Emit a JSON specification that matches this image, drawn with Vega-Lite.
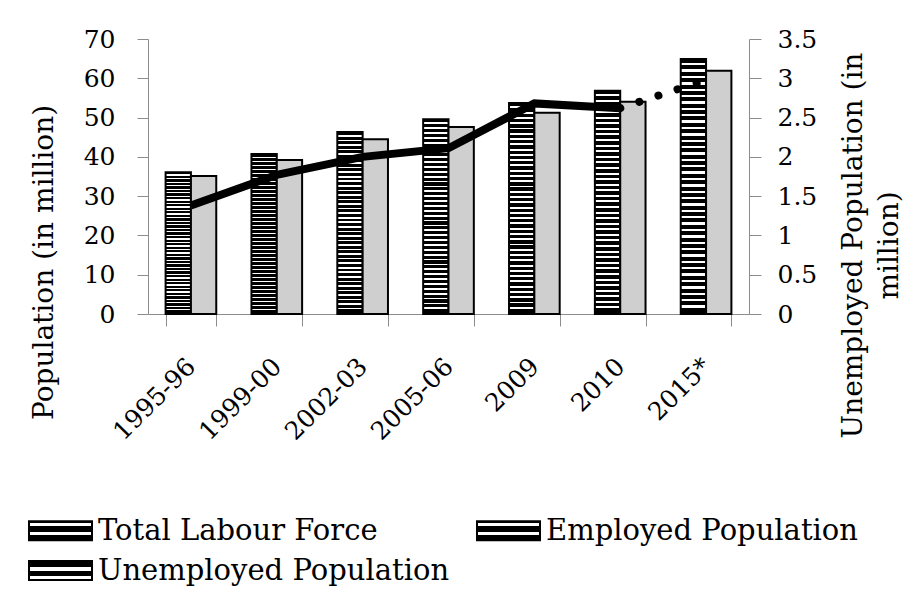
{
  "$schema": "https://vega.github.io/schema/vega-lite/v6.json",
  "width": 601,
  "height": 275,
  "autosize": {"type": "none"},
  "padding": {"left": 148, "top": 39, "right": 159, "bottom": 277},
  "background": "#ffffff",
  "config": {
    "view": {"stroke": null},
    "font": "DejaVu Serif",
    "axis": {"grid": false, "domainColor": "#8c8c8c", "tickColor": "#8c8c8c", "labelColor": "#000000", "titleColor": "#000000", "labelFont": "DejaVu Serif", "titleFont": "DejaVu Serif", "titleFontWeight": "normal"}
  },
  "datasets": {
    "bars": [
      {"year": "1995-96", "series": "Total Labour Force", "value": 36.1},
      {"year": "1995-96", "series": "Employed Population", "value": 35.1},
      {"year": "1999-00", "series": "Total Labour Force", "value": 40.7},
      {"year": "1999-00", "series": "Employed Population", "value": 39.2},
      {"year": "2002-03", "series": "Total Labour Force", "value": 46.3},
      {"year": "2002-03", "series": "Employed Population", "value": 44.5},
      {"year": "2005-06", "series": "Total Labour Force", "value": 49.6},
      {"year": "2005-06", "series": "Employed Population", "value": 47.6},
      {"year": "2009", "series": "Total Labour Force", "value": 53.7},
      {"year": "2009", "series": "Employed Population", "value": 51.2},
      {"year": "2010", "series": "Total Labour Force", "value": 56.8},
      {"year": "2010", "series": "Employed Population", "value": 54.0},
      {"year": "2015*", "series": "Total Labour Force", "value": 64.9},
      {"year": "2015*", "series": "Employed Population", "value": 61.9}
    ],
    "unemp": [
      {"year": "1995-96", "u": 1.38},
      {"year": "1999-00", "u": 1.77},
      {"year": "2002-03", "u": 2.0},
      {"year": "2005-06", "u": 2.11},
      {"year": "2009", "u": 2.68},
      {"year": "2010", "u": 2.62},
      {"year": "2015*", "u": 2.98}
    ]
  },
  "layer": [
    {
      "data": {"name": "bars"},
      "transform": [{"filter": "datum.series === 'Total Labour Force'"}],
      "mark": {"type": "bar", "strokeWidth": 2, "fill": {"gradient": "linear", "x1": 0, "y1": 0, "x2": 0, "y2": 1, "stops": [
            {"offset": 0, "color": "#000"}, {"offset": 0.016, "color": "#000"}, {"offset": 0.016, "color": "#fff"}, {"offset": 0.025, "color": "#fff"},
            {"offset": 0.025, "color": "#000"}, {"offset": 0.041, "color": "#000"}, {"offset": 0.041, "color": "#fff"}, {"offset": 0.05, "color": "#fff"},
            {"offset": 0.05, "color": "#000"}, {"offset": 0.066, "color": "#000"}, {"offset": 0.066, "color": "#fff"}, {"offset": 0.075, "color": "#fff"},
            {"offset": 0.075, "color": "#000"}, {"offset": 0.091, "color": "#000"}, {"offset": 0.091, "color": "#fff"}, {"offset": 0.1, "color": "#fff"},
            {"offset": 0.1, "color": "#000"}, {"offset": 0.116, "color": "#000"}, {"offset": 0.116, "color": "#fff"}, {"offset": 0.125, "color": "#fff"},
            {"offset": 0.125, "color": "#000"}, {"offset": 0.141, "color": "#000"}, {"offset": 0.141, "color": "#fff"}, {"offset": 0.15, "color": "#fff"},
            {"offset": 0.15, "color": "#000"}, {"offset": 0.166, "color": "#000"}, {"offset": 0.166, "color": "#fff"}, {"offset": 0.175, "color": "#fff"},
            {"offset": 0.175, "color": "#000"}, {"offset": 0.191, "color": "#000"}, {"offset": 0.191, "color": "#fff"}, {"offset": 0.2, "color": "#fff"},
            {"offset": 0.2, "color": "#000"}, {"offset": 0.216, "color": "#000"}, {"offset": 0.216, "color": "#fff"}, {"offset": 0.225, "color": "#fff"},
            {"offset": 0.225, "color": "#000"}, {"offset": 0.241, "color": "#000"}, {"offset": 0.241, "color": "#fff"}, {"offset": 0.25, "color": "#fff"},
            {"offset": 0.25, "color": "#000"}, {"offset": 0.266, "color": "#000"}, {"offset": 0.266, "color": "#fff"}, {"offset": 0.275, "color": "#fff"},
            {"offset": 0.275, "color": "#000"}, {"offset": 0.291, "color": "#000"}, {"offset": 0.291, "color": "#fff"}, {"offset": 0.3, "color": "#fff"},
            {"offset": 0.3, "color": "#000"}, {"offset": 0.316, "color": "#000"}, {"offset": 0.316, "color": "#fff"}, {"offset": 0.325, "color": "#fff"},
            {"offset": 0.325, "color": "#000"}, {"offset": 0.341, "color": "#000"}, {"offset": 0.341, "color": "#fff"}, {"offset": 0.35, "color": "#fff"},
            {"offset": 0.35, "color": "#000"}, {"offset": 0.366, "color": "#000"}, {"offset": 0.366, "color": "#fff"}, {"offset": 0.375, "color": "#fff"},
            {"offset": 0.375, "color": "#000"}, {"offset": 0.391, "color": "#000"}, {"offset": 0.391, "color": "#fff"}, {"offset": 0.4, "color": "#fff"},
            {"offset": 0.4, "color": "#000"}, {"offset": 0.416, "color": "#000"}, {"offset": 0.416, "color": "#fff"}, {"offset": 0.425, "color": "#fff"},
            {"offset": 0.425, "color": "#000"}, {"offset": 0.441, "color": "#000"}, {"offset": 0.441, "color": "#fff"}, {"offset": 0.45, "color": "#fff"},
            {"offset": 0.45, "color": "#000"}, {"offset": 0.466, "color": "#000"}, {"offset": 0.466, "color": "#fff"}, {"offset": 0.475, "color": "#fff"},
            {"offset": 0.475, "color": "#000"}, {"offset": 0.491, "color": "#000"}, {"offset": 0.491, "color": "#fff"}, {"offset": 0.5, "color": "#fff"},
            {"offset": 0.5, "color": "#000"}, {"offset": 0.516, "color": "#000"}, {"offset": 0.516, "color": "#fff"}, {"offset": 0.525, "color": "#fff"},
            {"offset": 0.525, "color": "#000"}, {"offset": 0.541, "color": "#000"}, {"offset": 0.541, "color": "#fff"}, {"offset": 0.55, "color": "#fff"},
            {"offset": 0.55, "color": "#000"}, {"offset": 0.566, "color": "#000"}, {"offset": 0.566, "color": "#fff"}, {"offset": 0.575, "color": "#fff"},
            {"offset": 0.575, "color": "#000"}, {"offset": 0.591, "color": "#000"}, {"offset": 0.591, "color": "#fff"}, {"offset": 0.6, "color": "#fff"},
            {"offset": 0.6, "color": "#000"}, {"offset": 0.616, "color": "#000"}, {"offset": 0.616, "color": "#fff"}, {"offset": 0.625, "color": "#fff"},
            {"offset": 0.625, "color": "#000"}, {"offset": 0.641, "color": "#000"}, {"offset": 0.641, "color": "#fff"}, {"offset": 0.65, "color": "#fff"},
            {"offset": 0.65, "color": "#000"}, {"offset": 0.666, "color": "#000"}, {"offset": 0.666, "color": "#fff"}, {"offset": 0.675, "color": "#fff"},
            {"offset": 0.675, "color": "#000"}, {"offset": 0.691, "color": "#000"}, {"offset": 0.691, "color": "#fff"}, {"offset": 0.7, "color": "#fff"},
            {"offset": 0.7, "color": "#000"}, {"offset": 0.716, "color": "#000"}, {"offset": 0.716, "color": "#fff"}, {"offset": 0.725, "color": "#fff"},
            {"offset": 0.725, "color": "#000"}, {"offset": 0.741, "color": "#000"}, {"offset": 0.741, "color": "#fff"}, {"offset": 0.75, "color": "#fff"},
            {"offset": 0.75, "color": "#000"}, {"offset": 0.766, "color": "#000"}, {"offset": 0.766, "color": "#fff"}, {"offset": 0.775, "color": "#fff"},
            {"offset": 0.775, "color": "#000"}, {"offset": 0.791, "color": "#000"}, {"offset": 0.791, "color": "#fff"}, {"offset": 0.8, "color": "#fff"},
            {"offset": 0.8, "color": "#000"}, {"offset": 0.816, "color": "#000"}, {"offset": 0.816, "color": "#fff"}, {"offset": 0.825, "color": "#fff"},
            {"offset": 0.825, "color": "#000"}, {"offset": 0.841, "color": "#000"}, {"offset": 0.841, "color": "#fff"}, {"offset": 0.85, "color": "#fff"},
            {"offset": 0.85, "color": "#000"}, {"offset": 0.866, "color": "#000"}, {"offset": 0.866, "color": "#fff"}, {"offset": 0.875, "color": "#fff"},
            {"offset": 0.875, "color": "#000"}, {"offset": 0.891, "color": "#000"}, {"offset": 0.891, "color": "#fff"}, {"offset": 0.9, "color": "#fff"},
            {"offset": 0.9, "color": "#000"}, {"offset": 0.916, "color": "#000"}, {"offset": 0.916, "color": "#fff"}, {"offset": 0.925, "color": "#fff"},
            {"offset": 0.925, "color": "#000"}, {"offset": 0.941, "color": "#000"}, {"offset": 0.941, "color": "#fff"}, {"offset": 0.95, "color": "#fff"},
            {"offset": 0.95, "color": "#000"}, {"offset": 0.966, "color": "#000"}, {"offset": 0.966, "color": "#fff"}, {"offset": 0.975, "color": "#fff"},
            {"offset": 0.975, "color": "#000"}, {"offset": 1, "color": "#000"}
          ]}},
      "encoding": {
        "x": {
          "field": "year", "type": "nominal", "sort": null,
          "scale": {"paddingInner": 0.41, "paddingOuter": 0.205},
          "axis": {"title": null, "labelAngle": -45, "labelAlign": "right", "labelBaseline": "middle", "labelFontSize": 25, "labelPadding": 36, "tickSize": 12, "tickBand": "extent", "labelOverlap": false, "labelLimit": 300}
        },
        "xOffset": {"field": "series", "type": "nominal", "scale": {"domain": ["Total Labour Force", "Employed Population"]}},
        "y": {
          "field": "value", "type": "quantitative",
          "scale": {"domain": [0, 70]},
          "axis": {"title": "Population (in million)", "values": [0, 10, 20, 30, 40, 50, 60, 70], "labelFontSize": 25, "labelPadding": 22, "tickSize": 11, "titleFontSize": 28, "titleX": -104, "titleY": 223, "titleAngle": 270, "titleAlign": "center", "titleBaseline": "middle"}
        },
        "stroke": {
          "field": "series", "type": "nominal",
          "scale": {"domain": ["Total Labour Force", "Employed Population", "Unemployed Population"], "range": ["#000000", "#000000", "#000000"]},
          "legend": {
            "title": null, "orient": "none", "direction": "horizontal", "legendX": -102, "legendY": 477, "columns": 2, "columnPadding": 23, "rowPadding": 10,
            "labelFont": "DejaVu Serif", "labelFontSize": 29, "labelColor": "#000000", "labelLimit": 600, "labelOffset": 23,
            "symbolSize": 441, "symbolType": "M-3,-0.9H3V0.9H-3Z", "symbolStrokeWidth": 2, "symbolStrokeColor": "#000000",
            "encode": {
              "symbols": {
                "fill": {"value": {"expr": "(datum.index === 2 || datum.label === 'Unemployed Population') ? '#000000' : (datum.index === 1 || datum.label === 'Employed Population') ? '#cfcfcf' : {gradient: 'linear', x1: 0, y1: 0, x2: 0, y2: 1, stops: [{offset: 0, color: '#000'}, {offset: 0.2, color: '#000'}, {offset: 0.2, color: '#fff'}, {offset: 0.29, color: '#fff'}, {offset: 0.29, color: '#000'}, {offset: 0.45, color: '#000'}, {offset: 0.45, color: '#fff'}, {offset: 0.55, color: '#fff'}, {offset: 0.55, color: '#000'}, {offset: 0.71, color: '#000'}, {offset: 0.71, color: '#fff'}, {offset: 0.8, color: '#fff'}, {offset: 0.8, color: '#000'}, {offset: 1, color: '#000'}]}"}},
                "shape": {"value": {"expr": "(datum.index === 2 || datum.label === 'Unemployed Population') ? 'M-3,-0.25H3V0.25H-3Z' : 'M-3,-0.9H3V0.9H-3Z'"}},
                "stroke": {"value": "#000000"},
                "strokeWidth": {"value": 2},
                "opacity": {"value": 1}
              }
            }
          }
        }
      }
    },
    {
      "data": {"name": "bars"},
      "transform": [{"filter": "datum.series === 'Employed Population'"}],
      "mark": {"type": "bar", "strokeWidth": 2, "fill": "#cfcfcf", "stroke": "#000000"},
      "encoding": {
        "x": {"field": "year", "type": "nominal", "sort": null},
        "xOffset": {"field": "series", "type": "nominal", "scale": {"domain": ["Total Labour Force", "Employed Population"]}},
        "y": {"field": "value", "type": "quantitative", "scale": {"domain": [0, 70]}, "axis": null}
      }
    },
    {
      "data": {"name": "unemp"},
      "transform": [{"filter": "datum.year !== '2015*'"}],
      "mark": {"type": "line", "strokeWidth": 8, "stroke": "#000000"},
      "encoding": {
        "x": {"field": "year", "type": "nominal", "sort": null},
        "y": {
          "field": "u", "type": "quantitative",
          "scale": {"domain": [0, 3.5]},
          "axis": {"orient": "right", "title": ["Unemployed Population (in", "million)"], "values": [0, 0.5, 1, 1.5, 2, 2.5, 3, 3.5], "labelExpr": "'' + datum.value", "labelFontSize": 25, "labelPadding": 16, "tickSize": 12, "titleFontSize": 28, "titleLineHeight": 36, "titleX": 104, "titleY": 206, "titleAngle": 270, "titleAlign": "center", "titleBaseline": "middle"}
        }
      }
    },
    {
      "data": {"name": "unemp"},
      "transform": [{"filter": "datum.year === '2010' || datum.year === '2015*'"}],
      "mark": {"type": "line", "strokeWidth": 8, "stroke": "#000000", "strokeCap": "round", "strokeDash": [0.1, 20]},
      "encoding": {
        "x": {"field": "year", "type": "nominal", "sort": null},
        "y": {"field": "u", "type": "quantitative", "scale": {"domain": [0, 3.5]}, "axis": null}
      }
    }
  ],
  "resolve": {"scale": {"y": "independent"}}
}
